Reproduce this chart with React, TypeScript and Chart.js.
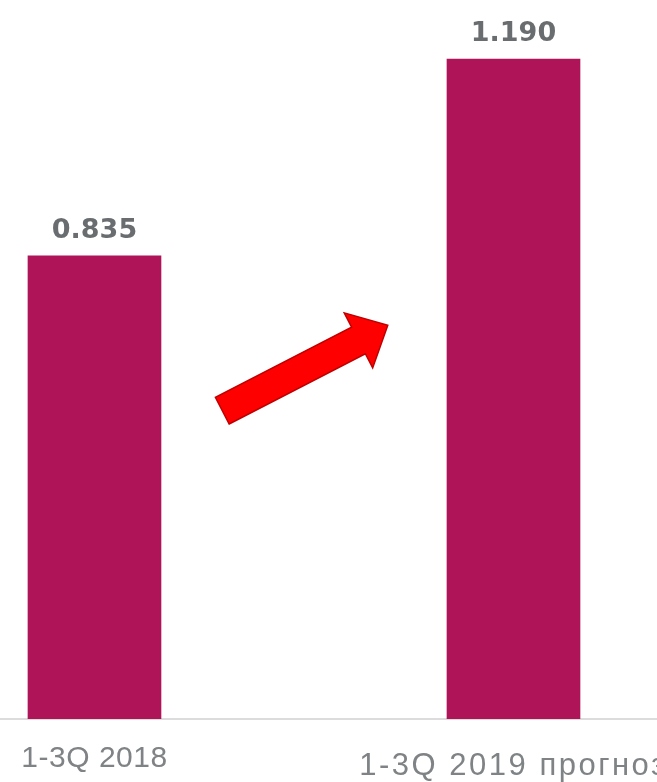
import React, { useEffect, useRef } from "react";
import { Chart, registerables } from "chart.js";

Chart.register(...registerables);

const categories: string[] = ["1-3Q 2018", "1-3Q 2019 прогноз"];
const values: number[] = [0.835, 1.19];
const valueLabels: string[] = ["0.835", "1.190"];

// annotation arrow (data coordinates: x = category index units, y = value units)
const arrowTail = { x: 0.305, y: 0.556 };
const arrowTip = { x: 0.7, y: 0.71 };

const BAR_COLOR = "#AF1459";
const VALUE_COLOR = "#6a6d70";
const LABEL_COLOR = "#7f8385";

const labelsPlugin = {
  id: "customLabels",
  afterDatasetsDraw(chart: any) {
    const ctx = chart.ctx as CanvasRenderingContext2D;
    const xs = chart.scales.x;
    const ys = chart.scales.y;

    // arrow
    const tx = xs.getPixelForValue(arrowTail.x);
    const ty = ys.getPixelForValue(arrowTail.y);
    const hx = xs.getPixelForValue(arrowTip.x);
    const hy = ys.getPixelForValue(arrowTip.y);
    const dx = hx - tx, dy = hy - ty;
    const len = Math.hypot(dx, dy);
    const ux = dx / len, uy = dy / len;
    const nx = -uy, ny = ux;
    const shaftHalf = 15;
    const headHalf = 31;
    const headLen = 33;
    const bx = hx - ux * headLen, by = hy - uy * headLen;
    const pts = [
      [tx + nx * shaftHalf, ty + ny * shaftHalf],
      [bx + nx * shaftHalf, by + ny * shaftHalf],
      [bx + nx * headHalf, by + ny * headHalf],
      [hx, hy],
      [bx - nx * headHalf, by - ny * headHalf],
      [bx - nx * shaftHalf, by - ny * shaftHalf],
      [tx - nx * shaftHalf, ty - ny * shaftHalf],
    ];
    ctx.save();
    ctx.beginPath();
    pts.forEach((p, i) => (i === 0 ? ctx.moveTo(p[0], p[1]) : ctx.lineTo(p[0], p[1])));
    ctx.closePath();
    ctx.fillStyle = "#ff0000";
    ctx.fill();
    ctx.lineWidth = 1.5;
    ctx.strokeStyle = "#c00000";
    ctx.lineJoin = "miter";
    ctx.stroke();
    ctx.restore();

    // value labels
    ctx.save();
    ctx.textAlign = "center";
    ctx.textBaseline = "alphabetic";
    ctx.fillStyle = VALUE_COLOR;
    ctx.font = "bold 27px 'DejaVu Sans'";
    values.forEach((v, i) => {
      const x = xs.getPixelForValue(i);
      const y = ys.getPixelForValue(v);
      ctx.fillText(valueLabels[i], x, y - 18);
    });
    ctx.restore();

    // category labels
    const bottom = chart.chartArea.bottom;
    const labelStyles = [
      { font: "30px 'Liberation Sans'", spacing: "0.5px", dy: 48 },
      { font: "31px 'Liberation Sans'", spacing: "2.5px", dy: 56 },
    ];
    ctx.save();
    ctx.textAlign = "center";
    ctx.textBaseline = "alphabetic";
    ctx.fillStyle = LABEL_COLOR;
    categories.forEach((c, i) => {
      const st = labelStyles[i];
      ctx.font = st.font;
      (ctx as any).letterSpacing = st.spacing;
      ctx.fillText(c, xs.getPixelForValue(i), bottom + st.dy);
    });
    ctx.restore();
  },
};

export default function App() {
  const ref = useRef<HTMLCanvasElement | null>(null);
  useEffect(() => {
    document.body.style.margin = "0";
    const canvas = ref.current!;
    const chart = new Chart(canvas, {
      type: "bar",
      data: {
        datasets: [
          {
            data: values.map((v, i) => ({ x: i, y: v })),
            backgroundColor: BAR_COLOR,
            borderWidth: 0,
            barThickness: 133,
          },
        ],
      },
      options: {
        animation: false,
        responsive: false,
        maintainAspectRatio: false,
        layout: { padding: { top: 0, bottom: 55, left: 0, right: 0 } },
        plugins: { legend: { display: false }, tooltip: { enabled: false } },
        scales: {
          x: {
            type: "linear",
            min: -0.2255,
            max: 1.3425,
            offset: false,
            grid: { display: false },
            ticks: { display: false },
            border: { display: true, color: "#dcdcdc", width: 2 },
          },
          y: {
            display: false,
            min: 0,
            max: 1.2965,
          },
        },
      },
      plugins: [labelsPlugin],
    });
    return () => chart.destroy();
  }, []);
  return (
    <div style={{ width: 657, height: 782 }}>
      <canvas ref={ref} width={657} height={782} style={{ display: "block" }} />
    </div>
  );
}
